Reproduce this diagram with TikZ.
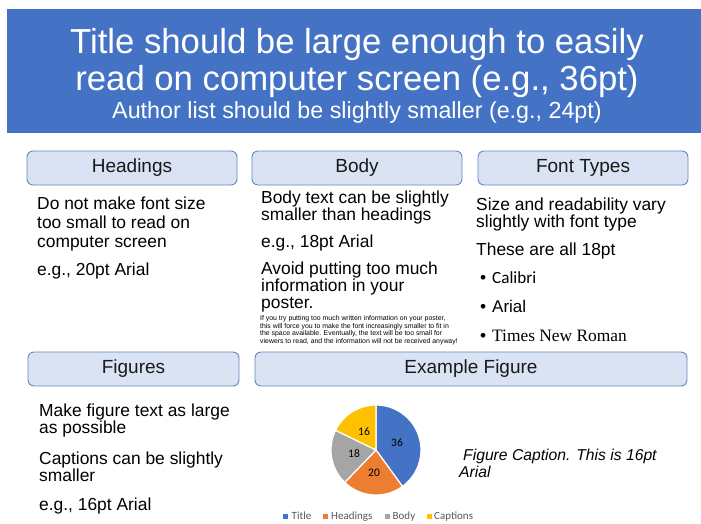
\documentclass[tikz,border=0pt]{standalone}
\usepackage{fontspec}
\setmainfont{Liberation Sans}
\newfontfamily\calibrifont{Carlito}
\newfontfamily\timesfont{Liberation Serif}

\definecolor{bannerblue}{HTML}{4472C4}
\definecolor{boxfill}{HTML}{DAE3F3}
\definecolor{boxedge}{HTML}{6687C0}
\definecolor{sliceblue}{HTML}{4472C4}
\definecolor{sliceorange}{HTML}{ED7D31}
\definecolor{slicegray}{HTML}{A5A5A5}
\definecolor{sliceyellow}{HTML}{FFC000}
\definecolor{legendgray}{HTML}{595959}

% multi-line nodes below are placed by the baseline of their last line
\tikzset{
  headbox/.style={draw=boxedge, fill=boxfill, line width=0.9pt, rounded corners=6pt,
    inner sep=0pt, text=black!90, font=\fontsize{19}{22}\selectfont},
  titleline/.style={anchor=base, inner sep=0pt, text=white},
  bodytext/.style={anchor=base west, inner sep=0pt, align=left,
    font=\fontsize{17.4}{19}\selectfont},
  tighttext/.style={anchor=base west, inner sep=0pt, align=left,
    font=\fontsize{17.4}{17}\selectfont},
  finetext/.style={anchor=base west, inner sep=0pt, align=left,
    font=\fontsize{6.9}{5.7}\selectfont},
  slice/.style={draw=white, line width=1.2pt, line join=round},
  slicelabel/.style={inner sep=0pt, font=\calibrifont\fontsize{11.5}{13}\selectfont},
  legendkey/.style={inner sep=0pt, minimum size=5pt},
  legendtext/.style={anchor=base west, inner sep=0pt, text=legendgray,
    font=\calibrifont\fontsize{11}{13}\selectfont},
}

\begin{document}
\begin{tikzpicture}[x=1pt, y=-1pt]
\useasboundingbox (0,0) rectangle (701,523);
\fill[white] (0,0) rectangle (701,523);

% title banner
\fill[bannerblue] (7,9) rectangle (701,133);
\node[titleline, font=\fontsize{34.7}{37}\selectfont] (title1) at (357,53)
  {Title should be large enough to easily};
\node[titleline, font=\fontsize{34.7}{37}\selectfont] (title2) at (357,90)
  {read on computer screen (e.g., 36pt)};
\node[titleline, font=\fontsize{23.3}{26}\selectfont] (authors) at (357,118)
  {Author list should be slightly smaller (e.g., 24pt)};

% section headers
\node[headbox, minimum width=210pt, minimum height=34pt] (hHead) at (132,168) {Headings};
\node[headbox, minimum width=210pt, minimum height=34pt] (hBody) at (357,168) {Body};
\node[headbox, minimum width=210pt, minimum height=34pt] (hFont) at (583,168) {Font Types};
\node[headbox, minimum width=211pt, minimum height=34pt] (hFig) at (133.5,369) {Figures};
\node[headbox, minimum width=432pt, minimum height=34pt] (hEx) at (471,369) {Example Figure};

% Headings column
\node[bodytext] (headA) at (37,247)
  {Do not make font size\\too small to read on\\computer screen};
\node[bodytext] (headB) at (37,275.5) {e.g., 20pt Arial};

% Body column
\node[tighttext] (bodyA) at (261,220) {Body text can be slightly\\smaller than headings};
\node[tighttext] (bodyB) at (261,247) {e.g., 18pt Arial};
\node[tighttext] (bodyC) at (261,308) {Avoid putting too much\\information in your\\poster.};
\node[finetext] (bodyD) at (260,343)
  {If you try putting too much written information on your poster,\\
   this will force you to make the font increasingly smaller to fit in\\
   the space available. Eventually, the text will be too small for\\
   viewers to read, and the information will not be received anyway!};

% Font Types column
\node[tighttext] (fontA) at (476,227) {Size and readability vary\\slightly with font type};
\node[tighttext] (fontB) at (476,255) {These are all 18pt};
\node[bodytext] (dot1) at (480,283) {•};
\node[bodytext] (dot2) at (480,312) {•};
\node[bodytext] (dot3) at (480,341) {•};
\node[anchor=base west, inner sep=0pt, font=\calibrifont\fontsize{17.1}{19}\selectfont]
  (calibri) at (492,283) {Calibri};
\node[anchor=base west, inner sep=0pt, font=\fontsize{17}{19}\selectfont]
  (arial) at (492,312) {Arial};
\node[anchor=base west, inner sep=0pt, font=\timesfont\fontsize{17.4}{19}\selectfont]
  (times) at (492,341) {Times New Roman};

% Figures column
\node[tighttext] (figA) at (39,433) {Make figure text as large\\as possible};
\node[tighttext] (figB) at (39,481) {Captions can be slightly\\smaller};
\node[tighttext] (figC) at (39,510) {e.g., 16pt Arial};

% pie chart
\begin{scope}[shift={(376,450)}, y=1pt]
  \fill[sliceblue, slice] (0,0) -- (90:45) arc[start angle=90, end angle=-54, radius=45] -- cycle;
  \fill[sliceorange, slice] (0,0) -- (-54:45) arc[start angle=-54, end angle=-134, radius=45] -- cycle;
  \fill[slicegray, slice] (0,0) -- (-134:45) arc[start angle=-134, end angle=-206, radius=45] -- cycle;
  \fill[sliceyellow, slice] (0,0) -- (-206:45) arc[start angle=-206, end angle=-270, radius=45] -- cycle;
\end{scope}
\node[slicelabel] (lab36) at (397,443) {36};
\node[slicelabel] (lab20) at (374,473) {20};
\node[slicelabel] (lab18) at (354,454) {18};
\node[slicelabel] (lab16) at (364,432) {16};

% legend
\node[legendkey, fill=sliceblue] (keyTitle) at (285,516) {};
\node[legendtext] (txtTitle) at (291.5,519.5) {Title};
\node[legendkey, fill=sliceorange] (keyHead) at (325,516) {};
\node[legendtext] (txtHead) at (331,519.5) {Headings};
\node[legendkey, fill=slicegray] (keyBody) at (387,516) {};
\node[legendtext] (txtBody) at (392.5,519.5) {Body};
\node[legendkey, fill=sliceyellow] (keyCap) at (429,516) {};
\node[legendtext] (txtCap) at (434,519.5) {Captions};

% caption
\node[anchor=base west, inner sep=0pt, align=left,
  font=\itshape\fontsize{15.7}{16.5}\selectfont] (caption) at (459,477)
  {\hspace*{4pt}Figure Caption. This is 16pt\\Arial};
\end{tikzpicture}
\end{document}
